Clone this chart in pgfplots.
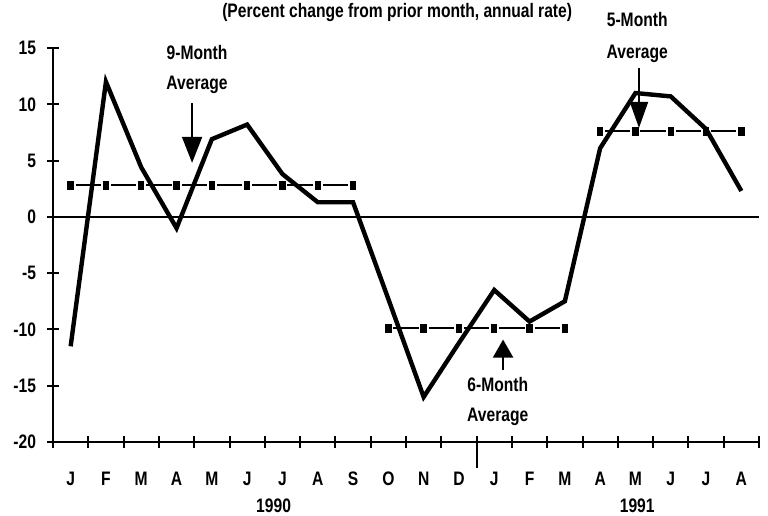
\documentclass[border=0pt]{standalone}
\usepackage{fontspec}
\setmainfont{Liberation Sans}[FakeStretch=0.8]
\usepackage{pgfplots}
\pgfplotsset{compat=1.18}
\usetikzlibrary{arrows.meta}
\begin{document}
\begin{tikzpicture}
\path[use as bounding box] (-26.5bp,-37bp) rectangle (357.5bp,221bp);
\begin{axis}[
  at={(0,0)}, anchor=south west,
  width=353bp, height=197bp, scale only axis,
  xmin=0, xmax=20, ymin=-20, ymax=15,
  axis lines=left,
  axis line style={-, line width=1.1bp},
  clip=false,
  font=\fontsize{9.8}{11}\selectfont\bfseries,
  /pgf/number format/assume math mode=true,
  xtick={0.5,1.5,...,19.5},
  xticklabels={J,F,M,A,M,J,J,A,S,O,N,D,J,F,M,A,M,J,J,A},
  minor xtick={0,1,...,20},
  major x tick style={draw=none},
  minor tick length=6bp,
  major tick length=6bp,
  tick align=center,
  tick style={line width=1bp, black},
  xticklabel style={yshift=-8.5bp},
  ytick={-20,-15,...,15},
  yticklabels={-20,-15,-10,-5,0,5,10,15},
  yticklabel style={xshift=-2bp},
]
% zero line
\draw[line width=1bp] (axis cs:0,0) -- (axis cs:20,0);
% year divider
\draw[line width=1bp] ([yshift=3bp]axis cs:12,-20) -- ([yshift=-13bp]axis cs:12,-20);
% averages
\addplot[black, line width=1bp, dash pattern=on 12.65bp off 5bp, dash phase=15.15bp,
  mark=square*, mark size=1.4bp, mark options={solid, xscale=0.8, yscale=1.25}]
  coordinates {(0.5,2.8)(1.5,2.8)(2.5,2.8)(3.5,2.8)(4.5,2.8)(5.5,2.8)(6.5,2.8)(7.5,2.8)(8.5,2.8)};
\addplot[black, line width=1bp, dash pattern=on 12.65bp off 5bp, dash phase=15.15bp,
  mark=square*, mark size=1.4bp, mark options={solid, xscale=0.8, yscale=1.25}]
  coordinates {(9.5,-9.9)(10.5,-9.9)(11.5,-9.9)(12.5,-9.9)(13.5,-9.9)(14.5,-9.9)};
\addplot[black, line width=1bp, dash pattern=on 12.65bp off 5bp, dash phase=15.15bp,
  mark=square*, mark size=1.4bp, mark options={solid, xscale=0.8, yscale=1.25}]
  coordinates {(15.5,7.6)(16.5,7.6)(17.5,7.6)(18.5,7.6)(19.5,7.6)};
% main series
\addplot[black, line width=2.2bp, mark=none] coordinates {
(0.5,-11.5)(1.5,12.0)(2.5,4.4)(3.5,-1.0)(4.5,6.9)(5.5,8.2)(6.5,3.8)(7.5,1.3)(8.5,1.3)
(9.5,-7.3)(10.5,-16.0)(11.5,-11.2)(12.5,-6.5)(13.5,-9.3)(14.5,-7.5)
(15.5,6.1)(16.5,11.0)(17.5,10.7)(18.5,7.8)(19.5,2.3)};
% year labels
\node[anchor=north] at (axis cs:6.25,-20) [yshift=-25bp] {1990};
\node[anchor=north] at (axis cs:16.55,-20) [yshift=-25bp] {1991};
% title
\node at (axis cs:9.75,15) [yshift=18bp] {(Percent change from prior month, annual rate)};
% annotations
\node at (axis cs:4.08,14.6) {9-Month};
\node at (axis cs:4.08,11.7) {Average};
\draw[line width=1bp, -{Triangle[width=10bp,length=13bp]}] (axis cs:3.94,10.1) -- (axis cs:3.94,4.8);
\node at (axis cs:16.55,17.5) {5-Month};
\node at (axis cs:16.55,14.5) {Average};
\draw[line width=1bp, -{Triangle[width=9bp,length=13bp]}] (axis cs:16.6,13.2) -- (axis cs:16.6,7.9);
\node at (axis cs:12.6,-14.9) {6-Month};
\node at (axis cs:12.6,-17.8) {Average};
\draw[line width=1bp, -{Triangle[width=10bp,length=9bp]}] (axis cs:12.75,-13.6) -- (axis cs:12.75,-10.9);
\end{axis}
\end{tikzpicture}
\end{document}
